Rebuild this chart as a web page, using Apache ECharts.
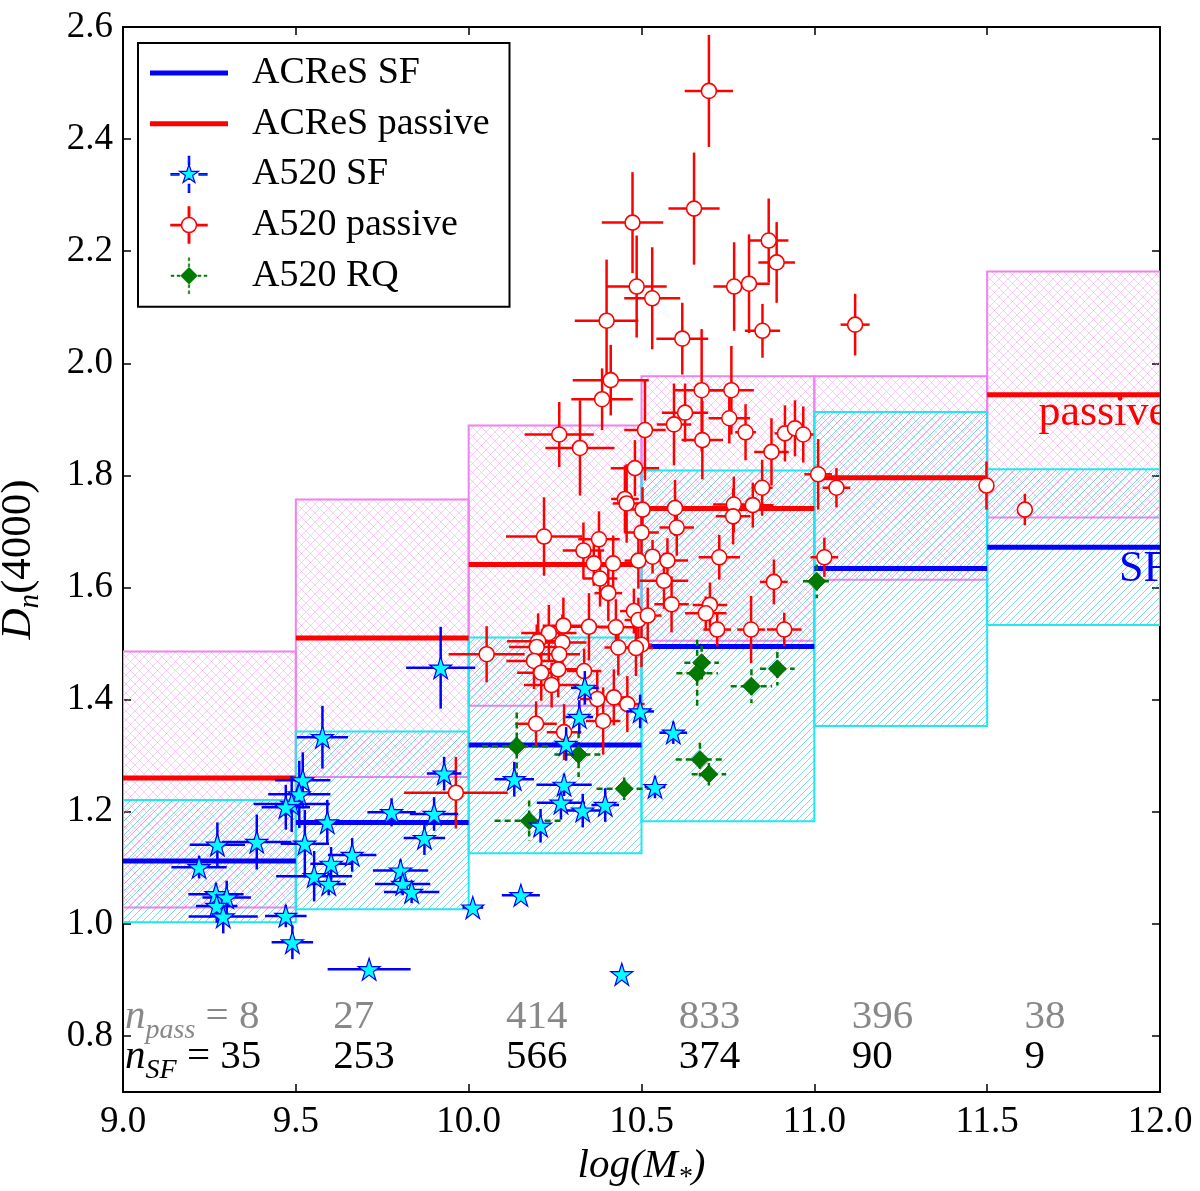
<!DOCTYPE html>
<html>
<head>
<meta charset="utf-8">
<title>Dn(4000) vs stellar mass</title>
<script src="https://cdn.jsdelivr.net/npm/echarts@6/dist/echarts.min.js"></script>
<style>
  html, body { margin: 0; padding: 0; background: #fff; }
  #main { width: 1200px; height: 1191px; }
</style>
</head>
<body>
<div id="main"></div>
<script>
// mass bins, log(M*)
const binEdges = [9.0, 9.5, 10.0, 10.5, 11.0, 11.5, 12.0];

// ACReS passive: median line and band per bin
const passMean = [1.260, 1.510, 1.641, 1.741, 1.796, 1.944];
const passLow  = [1.029, 1.262, 1.389, 1.505, 1.614, 1.725];
const passHigh = [1.486, 1.757, 1.889, 1.977, 1.977, 2.164];

// ACReS SF: median line and band per bin
const sfMean = [1.112, 1.181, 1.319, 1.495, 1.634, 1.672];
const sfLow  = [1.003, 1.026, 1.126, 1.183, 1.353, 1.533];
const sfHigh = [1.221, 1.343, 1.511, 1.809, 1.913, 1.811];

// number of ACReS galaxies per bin
const nPass = [8, 27, 414, 833, 396, 38];
const nSF   = [35, 253, 566, 374, 90, 9];

const xTicks = [9.0, 9.5, 10.0, 10.5, 11.0, 11.5, 12.0];
const yTicks = [0.8, 1.0, 1.2, 1.4, 1.6, 1.8, 2.0, 2.2, 2.4, 2.6];

// A520 galaxies: [logM, Dn4000, err logM, err Dn4000]
const a520SF = [
  [9.919, 1.457, 0.10, 0.073], [9.577, 1.333, 0.074, 0.056], [9.520, 1.256, 0.08, 0.05],
  [9.510, 1.231, 0.09, 0.06], [9.488, 1.214, 0.11, 0.05], [9.471, 1.208, 0.07, 0.04],
  [9.591, 1.181, 0.07, 0.04], [9.526, 1.143, 0.07, 0.06], [9.777, 1.199, 0.07, 0.025],
  [9.900, 1.196, 0.07, 0.03], [9.929, 1.268, 0.05, 0.03], [9.872, 1.153, 0.06, 0.03],
  [9.663, 1.123, 0.07, 0.03], [9.602, 1.107, 0.06, 0.03], [9.553, 1.085, 0.11, 0.045],
  [9.595, 1.071, 0.05, 0.02], [9.803, 1.095, 0.08, 0.02], [9.809, 1.071, 0.08, 0.02],
  [9.835, 1.057, 0.08, 0.02], [10.012, 1.029, 0.03, 0.01], [9.273, 1.141, 0.08, 0.04],
  [9.387, 1.146, 0.10, 0.049], [9.220, 1.101, 0.08, 0.02], [9.269, 1.053, 0.08, 0.02],
  [9.300, 1.047, 0.07, 0.03], [9.271, 1.032, 0.06, 0.03], [9.290, 1.013, 0.10, 0.03],
  [9.471, 1.014, 0.06, 0.02], [9.490, 0.967, 0.06, 0.03], [9.712, 0.919, 0.12, 0.0],
  [10.151, 1.051, 0.055, 0.0], [10.443, 0.910, 0.0, 0.0], [10.132, 1.258, 0.057, 0.031],
  [10.276, 1.248, 0.08, 0.02], [10.267, 1.216, 0.07, 0.03], [10.330, 1.202, 0.05, 0.03],
  [10.395, 1.212, 0.04, 0.03], [10.539, 1.244, 0.03, 0.02], [10.208, 1.175, 0.02, 0.03],
  [10.282, 1.321, 0.04, 0.03], [10.320, 1.369, 0.04, 0.03], [10.336, 1.421, 0.04, 0.03],
  [10.496, 1.379, 0.04, 0.03], [10.592, 1.341, 0.04, 0.02]
];

const a520Passive = [
  [10.474, 2.251, 0.089, 0.09], [10.652, 2.276, 0.074, 0.10], [10.695, 2.486, 0.07, 0.10],
  [10.868, 2.219, 0.057, 0.075], [10.891, 2.180, 0.053, 0.072], [10.768, 2.137, 0.06, 0.079],
  [10.811, 2.142, 0.06, 0.088], [10.486, 2.137, 0.087, 0.091], [10.531, 2.116, 0.081, 0.091],
  [10.399, 2.076, 0.092, 0.109], [10.618, 2.044, 0.075, 0.064], [10.850, 2.058, 0.051, 0.048],
  [11.118, 2.069, 0.042, 0.055], [10.411, 1.970, 0.11, 0.063], [10.386, 1.936, 0.089, 0.055],
  [10.674, 1.952, 0.077, 0.109], [10.760, 1.952, 0.065, 0.079], [10.626, 1.912, 0.067, 0.052],
  [10.754, 1.902, 0.06, 0.045], [10.594, 1.891, 0.05, 0.073], [10.510, 1.881, 0.06, 0.09],
  [10.676, 1.863, 0.06, 0.07], [10.801, 1.877, 0.03, 0.05], [10.915, 1.875, 0.03, 0.05],
  [10.944, 1.884, 0.025, 0.05], [10.968, 1.873, 0.03, 0.05], [10.876, 1.842, 0.05, 0.06],
  [10.262, 1.873, 0.10, 0.058], [10.322, 1.849, 0.10, 0.085], [10.481, 1.813, 0.07, 0.05],
  [11.011, 1.802, 0.04, 0.063], [11.064, 1.778, 0.04, 0.035], [10.849, 1.778, 0.03, 0.05],
  [10.452, 1.758, 0.04, 0.06], [10.457, 1.750, 0.04, 0.07], [10.503, 1.739, 0.05, 0.04],
  [10.597, 1.742, 0.05, 0.05], [10.767, 1.748, 0.06, 0.05], [10.822, 1.747, 0.06, 0.04],
  [10.765, 1.727, 0.05, 0.05], [10.500, 1.698, 0.05, 0.04], [10.602, 1.707, 0.05, 0.05],
  [10.218, 1.691, 0.11, 0.07], [10.377, 1.686, 0.06, 0.05], [10.332, 1.666, 0.06, 0.05],
  [10.362, 1.643, 0.05, 0.04], [10.418, 1.643, 0.04, 0.05], [10.491, 1.648, 0.04, 0.05],
  [10.532, 1.655, 0.04, 0.03], [10.575, 1.648, 0.06, 0.04], [10.725, 1.654, 0.06, 0.04],
  [10.380, 1.616, 0.05, 0.05], [10.404, 1.590, 0.04, 0.05], [10.565, 1.612, 0.07, 0.05],
  [10.883, 1.610, 0.04, 0.04], [11.029, 1.654, 0.04, 0.035], [10.587, 1.570, 0.05, 0.05],
  [10.698, 1.569, 0.05, 0.04], [10.686, 1.554, 0.06, 0.03], [10.478, 1.558, 0.04, 0.04],
  [10.491, 1.542, 0.04, 0.04], [10.518, 1.550, 0.04, 0.05], [10.719, 1.525, 0.04, 0.03],
  [10.817, 1.525, 0.04, 0.06], [10.913, 1.525, 0.05, 0.03], [10.348, 1.530, 0.06, 0.06],
  [10.426, 1.529, 0.05, 0.05], [10.274, 1.532, 0.06, 0.05], [10.232, 1.519, 0.08, 0.05],
  [10.201, 1.504, 0.09, 0.05], [10.271, 1.502, 0.07, 0.05], [10.197, 1.494, 0.08, 0.04],
  [10.500, 1.498, 0.03, 0.04], [10.484, 1.492, 0.05, 0.05], [10.433, 1.493, 0.04, 0.05],
  [10.052, 1.481, 0.11, 0.05], [10.262, 1.481, 0.06, 0.04], [10.189, 1.469, 0.08, 0.05],
  [10.259, 1.454, 0.06, 0.05], [10.334, 1.451, 0.05, 0.04], [10.210, 1.448, 0.07, 0.05],
  [10.240, 1.426, 0.08, 0.04], [10.372, 1.401, 0.05, 0.05], [10.420, 1.404, 0.04, 0.05],
  [10.459, 1.392, 0.05, 0.05], [10.389, 1.362, 0.05, 0.06], [10.195, 1.357, 0.06, 0.04],
  [10.276, 1.342, 0.05, 0.05], [9.963, 1.234, 0.15, 0.064], [11.498, 1.782, 0.01, 0.043],
  [11.609, 1.739, 0.02, 0.028]
];

const a520RQ = [
  [10.139, 1.317, 0.10, 0.06], [10.318, 1.302, 0.07, 0.04], [10.450, 1.241, 0.08, 0.02],
  [10.175, 1.184, 0.10, 0.036], [10.674, 1.466, 0.05, 0.03], [10.661, 1.447, 0.06, 0.06],
  [10.818, 1.424, 0.06, 0.03], [10.893, 1.455, 0.05, 0.03], [10.669, 1.293, 0.07, 0.03],
  [10.695, 1.267, 0.05, 0.02], [11.007, 1.611, 0.04, 0.03]
];

// labels written inside the last bin
const bandLabels = [
  { text: 'passive', y: 1.91, color: '#ff0000' },
  { text: 'SF', y: 1.632, color: '#0000ff' }
];

const FONT = 'Liberation Serif, DejaVu Serif, serif';

// hatch fills like matplotlib's '///' and 'xx'
function hatch(color, cross, step, lw) {
  const c = document.createElement('canvas');
  c.width = c.height = step;
  const ctx = c.getContext('2d');
  ctx.strokeStyle = color;
  ctx.lineWidth = lw;
  ctx.beginPath();
  ctx.moveTo(-1, step + 1); ctx.lineTo(step + 1, -1);
  ctx.moveTo(-1, 1); ctx.lineTo(1, -1);
  ctx.moveTo(step - 1, step + 1); ctx.lineTo(step + 1, step - 1);
  if (cross) {
    ctx.moveTo(-1, -1); ctx.lineTo(step + 1, step + 1);
    ctx.moveTo(step - 1, -1); ctx.lineTo(step + 1, 1);
    ctx.moveTo(-1, step - 1); ctx.lineTo(1, step + 1);
  }
  ctx.stroke();
  return { image: c, repeat: 'repeat' };
}

const cyanHatch = hatch('rgba(40,190,215,0.6)', false, 7, 1);
const pinkHatch = hatch('rgba(238,130,238,0.4)', true, 9, 1);

function bandData(lo, hi) {
  return lo.map((v, i) => [binEdges[i], binEdges[i + 1], v, hi[i]]);
}
function meanData(m) {
  return m.map((v, i) => [binEdges[i], binEdges[i + 1], v]);
}

function boxItem(fill, edge) {
  return function (params, api) {
    const a = api.coord([api.value(0), api.value(3)]);
    const b = api.coord([api.value(1), api.value(2)]);
    return {
      type: 'rect',
      shape: { x: a[0], y: a[1], width: b[0] - a[0], height: b[1] - a[1] },
      style: { fill: fill, stroke: edge, lineWidth: 2 }
    };
  };
}

function meanItem(color) {
  return function (params, api) {
    const a = api.coord([api.value(0), api.value(2)]);
    const b = api.coord([api.value(1), api.value(2)]);
    return {
      type: 'line',
      shape: { x1: a[0], y1: a[1], x2: b[0], y2: b[1] },
      style: { stroke: color, lineWidth: 5 }
    };
  };
}

function errItem(color, dash) {
  return function (params, api) {
    const x = api.value(0), y = api.value(1), ex = api.value(2), ey = api.value(3);
    const l = api.coord([x - ex, y]), r = api.coord([x + ex, y]);
    const t = api.coord([x, y + ey]), b = api.coord([x, y - ey]);
    const st = () => ({ stroke: color, lineWidth: 2.5, lineDash: dash || null });
    return {
      type: 'group',
      children: [
        { type: 'line', shape: { x1: l[0], y1: l[1], x2: r[0], y2: r[1] }, style: st() },
        { type: 'line', shape: { x1: t[0], y1: t[1], x2: b[0], y2: b[1] }, style: st() }
      ]
    };
  };
}

function countItem(params, api) {
  const i = params.dataIndex;
  const x0 = binEdges[i] + (i === 0 ? 0.006 : 0.108);
  const top = api.coord([x0, 0.833]);
  const bot = api.coord([x0, 0.762]);
  const pTxt = i === 0 ? '{m|n}{s|pass}{t| = ' + nPass[i] + '}' : '{t|' + nPass[i] + '}';
  const sTxt = i === 0 ? '{m|n}{s|SF}{t| = ' + nSF[i] + '}' : '{t|' + nSF[i] + '}';
  const mk = (p, txt, col) => ({
    type: 'text',
    x: p[0], y: p[1],
    style: {
      text: txt, fill: col, align: 'left', verticalAlign: 'middle',
      rich: {
        m: { fontFamily: FONT, fontStyle: 'italic', fontSize: 41, fill: col },
        s: { fontFamily: FONT, fontStyle: 'italic', fontSize: 28, fill: col, padding: [26, 0, 0, 0] },
        t: { fontFamily: FONT, fontSize: 41, fill: col }
      }
    }
  });
  return { type: 'group', children: [mk(top, pTxt, '#888888'), mk(bot, sTxt, '#000000')] };
}

function labelItem(params, api) {
  const lab = bandLabels[params.dataIndex];
  const p = api.coord([binEdges[binEdges.length - 1], lab.y]);
  return {
    type: 'text',
    x: p[0] + 8, y: p[1],
    style: { text: lab.text, fill: lab.color, fontFamily: FONT, fontSize: 44, align: 'right', verticalAlign: 'middle' }
  };
}

const starPath = 'path://M0,-10 L2.245,-3.09 L9.511,-3.09 L3.633,1.18 L5.878,8.09 L0,3.82 L-5.878,8.09 L-3.633,1.18 L-9.511,-3.09 L-2.245,-3.09 Z';

// legend icons (36x36 box), cross arms stop at the marker
const armsSolid = (g) =>
  'M17.3,0 H18.7 V' + g + ' H17.3 Z M17.3,' + (36 - g) + ' H18.7 V36 H17.3 Z ' +
  'M0,17.3 H' + g + ' V18.7 H0 Z M' + (36 - g) + ',17.3 H36 V18.7 H' + (36 - g) + ' Z';
const iconSF = 'path://' + armsSolid(8) +
  ' M18,8 L20.245,14.91 L27.511,14.91 L21.633,19.18 L23.878,26.09 L18,21.82 L12.122,26.09 L14.367,19.18 L8.489,14.91 L15.755,14.91 Z';
const iconPass = 'path://' + armsSolid(10.5) +
  ' M10.5,18 A7.5,7.5 0 1,0 25.5,18 A7.5,7.5 0 1,0 10.5,18 Z';
const iconRQ = 'path://M17.3,0 H18.7 V3 H17.3 Z M17.3,6 H18.7 V9 H17.3 Z M17.3,27 H18.7 V30 H17.3 Z M17.3,33 H18.7 V36 H17.3 Z ' +
  'M0,17.3 H3 V18.7 H0 Z M6,17.3 H9 V18.7 H6 Z M27,17.3 H30 V18.7 H27 Z M33,17.3 H36 V18.7 H33 Z ' +
  'M18,9.5 L26.5,18 L18,26.5 L9.5,18 Z';
const iconLine = 'path://M0,0 H78 V5 H0 Z';

const axisCommon = {
  axisLine: { show: true, onZero: false, lineStyle: { color: '#000', width: 2 } },
  splitLine: { show: false }
};

const option = {
  animation: false,
  backgroundColor: '#ffffff',
  textStyle: { fontFamily: FONT },
  grid: { left: 123, right: 40, top: 27, bottom: 99, outerBoundsMode: 'none' },
  legend: {
    orient: 'vertical',
    left: 138, top: 43,
    padding: [11, 20, 12, 12],
    itemWidth: 78, itemHeight: 36, itemGap: 12.7,
    symbolKeepAspect: true,
    borderColor: '#000', borderWidth: 2, backgroundColor: '#fff',
    selectedMode: false,
    textStyle: { fontFamily: FONT, fontSize: 38, color: '#000', padding: [0, 0, 0, 19] },
    data: [
      { name: 'ACReS SF', icon: iconLine, itemStyle: { color: '#0000ff', borderWidth: 0 } },
      { name: 'ACReS passive', icon: iconLine, itemStyle: { color: '#ff0000', borderWidth: 0 } },
      { name: 'A520 SF', icon: iconSF, itemStyle: { color: '#00ffff', borderColor: '#0000ff', borderWidth: 1.2 } },
      { name: 'A520 passive', icon: iconPass, itemStyle: { color: '#ffffff', borderColor: '#ff0000', borderWidth: 1.5 } },
      { name: 'A520 RQ', icon: iconRQ, itemStyle: { color: '#007a00', borderColor: '#007a00', borderWidth: 0.5 } }
    ]
  },
  xAxis: [
    Object.assign({
      type: 'value', min: 9, max: 12, interval: 0.5, position: 'bottom',
      name: '{a|log(M}{s|*}{a|)}', nameLocation: 'middle', nameGap: 42,
      nameTextStyle: {
        rich: {
          a: { fontFamily: FONT, fontStyle: 'italic', fontSize: 41, color: '#000' },
          s: { fontFamily: FONT, fontStyle: 'italic', fontSize: 28, color: '#000', padding: [22, 0, 0, 0] }
        }
      },
      axisTick: { inside: true, length: 8, lineStyle: { color: '#000', width: 1.5 } },
      axisLabel: {
        customValues: xTicks, margin: 12, color: '#000', fontFamily: FONT, fontSize: 37,
        formatter: (v) => v.toFixed(1)
      }
    }, axisCommon),
    Object.assign({
      type: 'value', min: 9, max: 12, interval: 0.5, position: 'top',
      axisTick: { inside: true, length: 8, lineStyle: { color: '#000', width: 1.5 } },
      axisLabel: { show: false }
    }, axisCommon)
  ],
  yAxis: [
    Object.assign({
      type: 'value', min: 0.7, max: 2.6, position: 'left',
      name: '{d|D}{s|n}{a|(4000)}', nameLocation: 'middle', nameGap: 78,
      nameTextStyle: {
        rich: {
          d: { fontFamily: FONT, fontStyle: 'italic', fontSize: 43, color: '#000' },
          s: { fontFamily: FONT, fontStyle: 'italic', fontSize: 29, color: '#000', padding: [24, 0, 0, 0] },
          a: { fontFamily: FONT, fontSize: 43, color: '#000' }
        }
      },
      axisTick: { inside: true, length: 8, customValues: yTicks, lineStyle: { color: '#000', width: 1.5 } },
      axisLabel: {
        customValues: yTicks, margin: 10, color: '#000', fontFamily: FONT, fontSize: 37,
        formatter: (v) => v.toFixed(1)
      }
    }, axisCommon),
    Object.assign({
      type: 'value', min: 0.7, max: 2.6, position: 'right',
      axisTick: { inside: true, length: 8, customValues: yTicks, lineStyle: { color: '#000', width: 1.5 } },
      axisLabel: { show: false }
    }, axisCommon)
  ],
  series: [
    {
      name: 'ACReS passive range', type: 'custom', z: 1, clip: true,
      renderItem: boxItem(pinkHatch, '#ee82ee'),
      encode: { x: [0, 1], y: [2, 3] },
      data: bandData(passLow, passHigh)
    },
    {
      name: 'ACReS SF range', type: 'custom', z: 2, clip: true,
      renderItem: boxItem(cyanHatch, '#1ee8f0'),
      encode: { x: [0, 1], y: [2, 3] },
      data: bandData(sfLow, sfHigh)
    },
    {
      name: 'ACReS SF', type: 'custom', z: 3, clip: true,
      renderItem: meanItem('#0000ff'),
      encode: { x: [0, 1], y: 2 },
      itemStyle: { color: '#0000ff' },
      data: meanData(sfMean)
    },
    {
      name: 'ACReS passive', type: 'custom', z: 3, clip: true,
      renderItem: meanItem('#ff0000'),
      encode: { x: [0, 1], y: 2 },
      itemStyle: { color: '#ff0000' },
      data: meanData(passMean)
    },
    {
      name: 'A520 passive', type: 'custom', z: 4, clip: true,
      renderItem: errItem('#ff0000'),
      encode: { x: 0, y: 1 },
      data: a520Passive
    },
    {
      name: 'A520 passive', type: 'scatter', z: 5,
      symbol: 'circle', symbolSize: 15,
      itemStyle: { color: '#ffffff', borderColor: '#ff0000', borderWidth: 1.6, opacity: 1 },
      data: a520Passive.map((d) => [d[0], d[1]])
    },
    {
      name: 'A520 RQ', type: 'custom', z: 6, clip: true,
      renderItem: errItem('#007a00', [6, 4]),
      encode: { x: 0, y: 1 },
      data: a520RQ
    },
    {
      name: 'A520 RQ', type: 'scatter', z: 7,
      symbol: 'diamond', symbolSize: 18,
      itemStyle: { color: '#007a00', borderColor: '#005c00', borderWidth: 0.8, opacity: 1 },
      data: a520RQ.map((d) => [d[0], d[1]])
    },
    {
      name: 'A520 SF', type: 'custom', z: 8, clip: true,
      renderItem: errItem('#0000ff'),
      encode: { x: 0, y: 1 },
      data: a520SF
    },
    {
      name: 'A520 SF', type: 'scatter', z: 9,
      symbol: starPath, symbolSize: 22,
      itemStyle: { color: '#00ffff', borderColor: '#0000ff', borderWidth: 1.2, opacity: 1 },
      data: a520SF.map((d) => [d[0], d[1]])
    },
    {
      name: 'counts', type: 'custom', z: 10, silent: true,
      renderItem: countItem,
      encode: { x: 0, y: 1 },
      data: nPass.map((v, i) => [binEdges[i], 0.8])
    },
    {
      name: 'band labels', type: 'custom', z: 10, silent: true, clip: true,
      renderItem: labelItem,
      encode: { x: 0, y: 1 },
      data: bandLabels.map((b) => [12, b.y])
    }
  ]
};

const chart = echarts.init(document.getElementById('main'), null, { renderer: 'canvas' });
chart.setOption(option);
</script>
</body>
</html>
